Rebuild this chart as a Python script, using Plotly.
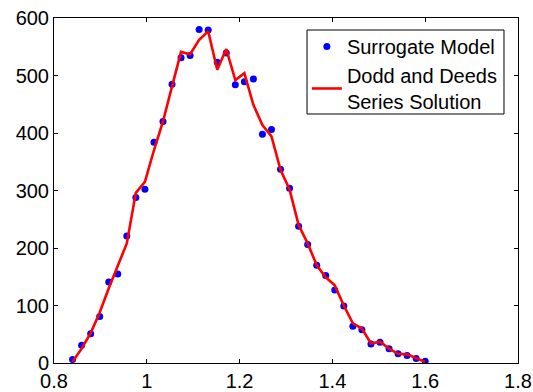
import plotly.graph_objects as go

x_vals = [0.840, 0.8595, 0.879, 0.8985, 0.918, 0.9374, 0.9569, 0.9764, 0.9959, 1.0154,
          1.0349, 1.0544, 1.0738, 1.0933, 1.1128, 1.1323, 1.1518, 1.1713, 1.1908, 1.2103,
          1.2297, 1.2492, 1.2687, 1.2882, 1.3077, 1.3272, 1.3467, 1.3662, 1.3856, 1.4051,
          1.4246, 1.4441, 1.4636, 1.4831, 1.5026, 1.5221, 1.5415, 1.5610, 1.5805, 1.6000]

surrogate = [6, 31, 51, 81, 141, 155, 221, 288, 302, 384,
             420, 485, 531, 535, 580, 579, 523, 539, 484, 489,
             494, 398, 406, 337, 304, 238, 206, 170, 152, 127,
             99, 64, 58, 33, 36, 25, 16, 13, 8, 3]

dodd_deeds = [2, 25, 52, 88, 130, 168, 208, 296, 315, 370,
              420, 481, 541, 537, 562, 577, 510, 546, 492, 504,
              449, 414, 394, 336, 302, 240, 208, 170, 149, 135,
              100, 69, 60, 34, 37, 25, 16, 15, 8, 2]

x_ticks = [0.8, 1.0, 1.2, 1.4, 1.6, 1.8]
x_tick_text = ["0.8", "1", "1.2", "1.4", "1.6", "1.8"]
y_ticks = [0, 100, 200, 300, 400, 500, 600]

font_family = "Liberation Sans, Arial, sans-serif"

fig = go.Figure()
fig.add_trace(go.Scatter(
    x=x_vals, y=surrogate, mode="markers", name="Surrogate Model",
    marker=dict(color="#0000ff", size=7, line=dict(width=0)),
))
fig.add_trace(go.Scatter(
    x=x_vals, y=dodd_deeds, mode="lines", name="Dodd and Deeds<br>Series Solution",
    line=dict(color="#ff0000", width=2.6),
))

axis_common = dict(
    showline=True, linecolor="black", linewidth=1, mirror="ticks",
    ticks="inside", ticklen=4, tickcolor="black", tickwidth=1,
    showgrid=False, zeroline=False, automargin=False,
    tickfont=dict(family=font_family, size=20, color="black"),
)

# legend frame (paper coordinates)
fig.add_shape(type="rect", xref="paper", yref="paper",
              x0=0.5453, x1=0.9698, y0=0.7217, y1=0.9652,
              line=dict(color="black", width=1), fillcolor="white", layer="above")

fig.update_layout(
    width=533, height=392,
    margin=dict(l=54, r=15, t=18, b=29),
    paper_bgcolor="white", plot_bgcolor="white",
    font=dict(family=font_family, size=20, color="black"),
    xaxis=dict(range=[0.8, 1.8], tickvals=x_ticks, ticktext=x_tick_text, ticklabelstandoff=0, **axis_common),
    yaxis=dict(range=[0, 600], tickvals=y_ticks, ticklabelstandoff=0, **axis_common),
    showlegend=True,
    legend=dict(
        x=0.545, y=0.974, xanchor="left", yanchor="top",
        bgcolor="rgba(0,0,0,0)", borderwidth=0,
        font=dict(family=font_family, size=20, color="black"),
        tracegroupgap=0, itemwidth=30,
    ),
)

fig.write_html("out.html")
